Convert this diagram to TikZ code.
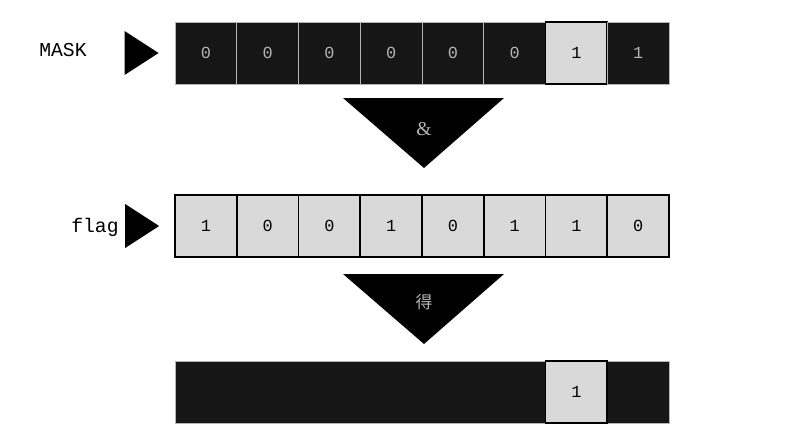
\documentclass[tikz,border=0pt]{standalone}
\usepackage{fontspec}
\setmainfont{Liberation Serif}
\setmonofont{Liberation Mono}
\newfontfamily\cjk{Noto Sans CJK SC}
\usepackage{xcolor}
\usepackage{tikz}
\usetikzlibrary{positioning,calc}

\definecolor{cellblack}{HTML}{161616}
\definecolor{celllite}{HTML}{D9D9D9}
\definecolor{celltext}{HTML}{B4B4B4}

\tikzset{
  bitcell/.style={minimum width=1.544cm, minimum height=1.55cm, inner sep=0pt,
    font=\ttfamily\fontsize{12}{12}\selectfont},
  darkcell/.style={bitcell, fill=cellblack, draw=celltext, line width=0.6pt, text=celltext},
  litecell/.style={bitcell, fill=celllite, draw=black, line width=1.2pt, text=black},
  rowlabel/.style={font=\ttfamily\fontsize{14}{14}\selectfont}
}

\begin{document}
\begin{tikzpicture}[x=0.025cm, y=-0.025cm]
\useasboundingbox (0,0) rectangle (788,434);

% MASK row
\foreach \v [count=\i] in {0,0,0,0,0,0,1,1} {
    \ifnum\i=7
        \node[litecell] (mask\i) at ({175+61.75*(\i-0.5)},53) {\v};
    \else
        \node[darkcell] (mask\i) at ({175+61.75*(\i-0.5)},53) {\v};
    \fi
}
\node[rowlabel] (masklbl) at (63,50) {MASK};
\fill ($(mask1.west)+(-50,-22)$) -- ($(mask1.west)+(-50,22)$) -- ($(mask1.west)+(-16,0)$) -- cycle;

% AND operator
\fill (343,98) -- (504,98) -- (424,168) -- cycle;
\node[text=celltext, font=\fontsize{14}{14}\selectfont] (andop) at (424,129) {\&};

% flag row
\foreach \v [count=\i] in {1,0,0,1,0,1,1,0}
    \node[litecell] (flag\i) at ({175+61.75*(\i-0.5)},226) {\v};
\node[rowlabel] (flaglbl) at (95,227) {flag};
\fill ($(flag1.west)+(-49,-22)$) -- ($(flag1.west)+(-49,22)$) -- ($(flag1.west)+(-15,0)$) -- cycle;

% result operator
\fill (343,274) -- (504,274) -- (424,344) -- cycle;
\node[text=celltext, font=\cjk\fontsize{12}{12}\selectfont] (getop) at (424,302) {得};

% result row
\node[fill=cellblack, draw=celltext, line width=0.6pt, minimum width=12.35cm,
      minimum height=1.55cm, inner sep=0pt] (res) at (422,392) {};
\node[litecell] (res7) at ({175+61.75*6.5},392) {1};
\end{tikzpicture}
\end{document}
